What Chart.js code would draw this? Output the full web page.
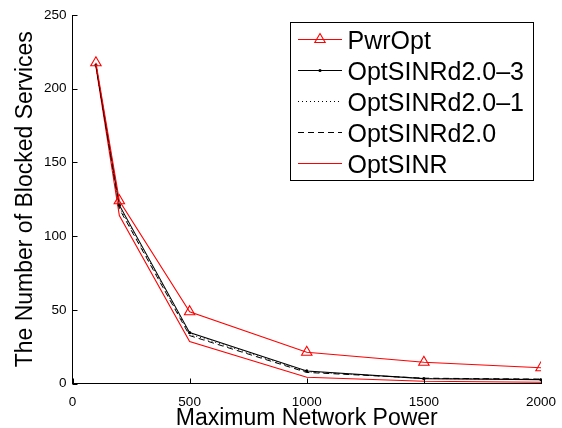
<!DOCTYPE html>
<html>
<head>
<meta charset="utf-8">
<script src="https://cdn.jsdelivr.net/npm/chart.js@4/dist/chart.umd.min.js"></script>
<style>
html,body{margin:0;padding:0;background:#fff;}
canvas{display:block;}
</style>
</head>
<body>
<canvas id="c" width="562" height="428"></canvas>
<script>
const xValues = [100, 200, 500, 1000, 1500, 2000];
const pwrOpt = [217.6, 124, 48.7, 21.2, 14.4, 10.7];
const optSINRd20_3 = [216, 121, 34.5, 8.5, 3.3, 2.6];
const optSINRd20_1 = [216, 119.5, 33.5, 8.0, 3.4, 2.8];
const optSINRd20 = [216, 118.5, 32.5, 7.5, 3.6, 3.0];
const optSINR = [215, 114, 28.4, 4.2, 1.5, 0.8];
const seriesLabels = ['PwrOpt', 'OptSINRd2.0\u20133', 'OptSINRd2.0\u20131', 'OptSINRd2.0', 'OptSINR'];
const xTicks = [0, 500, 1000, 1500, 2000];
const yTicks = [0, 50, 100, 150, 200, 250];
const xTitle = 'Maximum Network Power';
const yTitle = 'The Number of Blocked Services';

const FONT = "'Liberation Sans', Arial, Helvetica, sans-serif";
Chart.defaults.font.family = FONT;
Chart.defaults.color = '#000';

function pts(vals){ return xValues.map((x,i)=>({x:x, y:vals[i]})); }

const datasets = [
  {label: seriesLabels[0], data: pts(pwrOpt), borderColor:'#ff0000', backgroundColor:'rgba(0,0,0,0)',
   borderWidth:1.1, pointStyle:'triangle', pointRadius:6, pointBorderWidth:1.1, pointBorderColor:'#ff0000', pointBackgroundColor:'rgba(0,0,0,0)'},
  {label: seriesLabels[1], data: pts(optSINRd20_3), borderColor:'#000', backgroundColor:'#000',
   borderWidth:1.1, pointStyle:'circle', pointRadius:1.6, pointBorderWidth:0, pointBackgroundColor:'#000'},
  {label: seriesLabels[2], data: pts(optSINRd20_1), borderColor:'#000', backgroundColor:'#000',
   borderWidth:1, borderDash:[1,3], pointRadius:0},
  {label: seriesLabels[3], data: pts(optSINRd20), borderColor:'#000', backgroundColor:'#000',
   borderWidth:1, borderDash:[6,4], pointRadius:0},
  {label: seriesLabels[4], data: pts(optSINR), borderColor:'#ff0000', backgroundColor:'#ff0000',
   borderWidth:1.1, pointRadius:0}
];

const inwardTicks = {
  id:'inwardTicks',
  afterDatasetsDraw(chart){
    const ctx = chart.ctx, ca = chart.chartArea;
    const xs = chart.scales.x, ys = chart.scales.y;
    ctx.save();
    ctx.strokeStyle = '#000'; ctx.lineWidth = 1;
    ctx.beginPath();
    xTicks.forEach(v=>{ const px = Math.round(xs.getPixelForValue(v))+0.5; ctx.moveTo(px, ca.bottom); ctx.lineTo(px, ca.bottom-5); });
    yTicks.forEach(v=>{ const py = Math.round(ys.getPixelForValue(v))+0.5; ctx.moveTo(ca.left, py); ctx.lineTo(ca.left+5, py); });
    ctx.stroke();
    ctx.restore();
  }
};

const boxLegend = {
  id:'boxLegend',
  afterDraw(chart){
    const ctx = chart.ctx;
    const bx = 290.5, by = 22.5, bw = 243, bh = 158;
    ctx.save();
    ctx.fillStyle = '#fff';
    ctx.fillRect(bx, by, bw, bh);
    ctx.strokeStyle = '#000'; ctx.lineWidth = 1;
    ctx.strokeRect(bx, by, bw, bh);
    ctx.font = '25px ' + FONT;
    ctx.textBaseline = 'alphabetic';
    ctx.textAlign = 'left';
    chart.data.datasets.forEach((ds, i)=>{
      const y = 39.5 + i*31;
      ctx.save();
      ctx.strokeStyle = ds.borderColor;
      ctx.lineWidth = ds.borderWidth;
      ctx.setLineDash(ds.borderDash || []);
      ctx.beginPath(); ctx.moveTo(298, y); ctx.lineTo(342, y); ctx.stroke();
      ctx.restore();
      if (ds.pointRadius > 0) {
        ctx.save();
        ctx.setLineDash([]);
        ctx.strokeStyle = ds.pointBorderColor || ds.borderColor;
        ctx.fillStyle = ds.pointBackgroundColor;
        ctx.lineWidth = ds.pointBorderWidth;
        Chart.helpers.drawPoint(ctx, {pointStyle: ds.pointStyle, radius: ds.pointRadius, borderWidth: ds.pointBorderWidth, rotation:0}, 320, y);
        ctx.restore();
      }
      ctx.fillStyle = '#000';
      ctx.fillText(ds.label, 347.5, y + 9);
    });
    ctx.restore();
  }
};

new Chart(document.getElementById('c'), {
  type:'line',
  data:{datasets: datasets},
  options:{
    responsive:false,
    devicePixelRatio:1,
    animation:false,
    layout:{padding:{top:15, right:21, left:0, bottom:0}},
    plugins:{legend:{display:false}, tooltip:{enabled:false}},
    elements:{line:{tension:0}},
    scales:{
      x:{
        type:'linear', min:0, max:2000,
        afterBuildTicks(s){ s.ticks = xTicks.map(v=>({value:v})); },
        afterFit(s){ s.height = 44.5; s.paddingRight = 0; s.paddingLeft = 0; },
        grid:{display:true, drawOnChartArea:false, drawTicks:false},
        border:{display:true, color:'#000', width:1},
        ticks:{padding:11, font:{size:13.5}, color:'#000', callback:(v)=>String(v), maxRotation:0, autoSkip:false},
        title:{display:true, text:xTitle, font:{size:23, lineHeight:1.0}, color:'#000', padding:{top:0, bottom:-2.5}}
      },
      y:{
        type:'linear', min:0, max:250,
        afterBuildTicks(s){ s.ticks = yTicks.map(v=>({value:v})); },
        afterFit(s){ s.width = 72.5; s.paddingTop = 0; s.paddingBottom = 0; },
        grid:{display:true, drawOnChartArea:false, drawTicks:false},
        border:{display:true, color:'#000', width:1},
        ticks:{padding:6, font:{size:13.5}, color:'#000', callback:(v)=>String(v), autoSkip:false},
        title:{display:true, text:yTitle, font:{size:23, lineHeight:1.0}, color:'#000', padding:{top:14, bottom:0}}
      }
    }
  },
  plugins:[inwardTicks, boxLegend]
});
</script>
</body>
</html>
